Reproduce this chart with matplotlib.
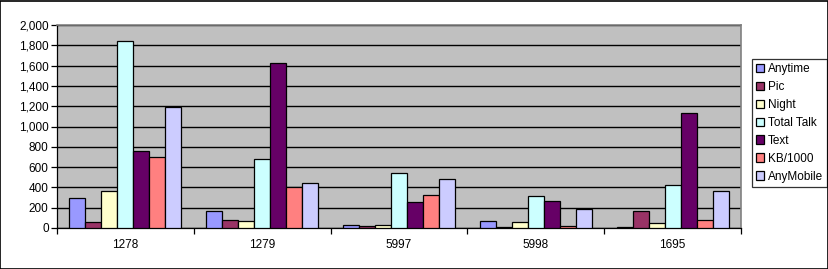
import numpy as np
import matplotlib.pyplot as plt
from matplotlib.ticker import FuncFormatter
from matplotlib.patches import Rectangle

plt.rcParams['font.family'] = ['Liberation Sans', 'DejaVu Sans']

# Data
categories = ['1278', '1279', '5997', '5998', '1695']
anytime = [300, 170, 30, 70, 10]
pic = [60, 80, 20, 10, 170]
night = [360, 70, 30, 60, 50]
total_talk = [1840, 675, 545, 320, 420]
text = [760, 1630, 260, 270, 1130]
kb_1000 = [700, 400, 330, 20, 80]
any_mobile = [1190, 440, 485, 190, 360]

series = [anytime, pic, night, total_talk, text, kb_1000, any_mobile]
names = ['Anytime', 'Pic', 'Night', 'Total Talk', 'Text', 'KB/1000', 'AnyMobile']
colors = ['#9999FF', '#993366', '#FFFFCC', '#CCFFFF', '#660066', '#FF8080', '#CCCCFF']

fig = plt.figure(figsize=(8.29, 2.69), dpi=100)
ax = fig.add_axes([57 / 829, 1 - 228 / 269, 684 / 829, 203 / 269])

x = np.arange(len(categories))
w = 0.117
for i, (vals, name, c) in enumerate(zip(series, names, colors)):
    ax.bar(x + (i - 3) * w, vals, w, color=c, edgecolor='black', linewidth=0.9,
           label=name, zorder=3)

ax.set_facecolor('#C0C0C0')
ax.set_xlim(-0.5, len(categories) - 0.5)
ax.set_ylim(0, 2000)
ax.set_yticks(np.arange(0, 2001, 200))
ax.yaxis.set_major_formatter(FuncFormatter(lambda v, p: f'{int(v):,}'))
ax.grid(axis='y', color='black', linewidth=1.0, zorder=1)

ax.set_xticks(x)
ax.set_xticklabels(categories)
ax.set_xticks(np.arange(-0.5, len(categories), 1), minor=True)
ax.tick_params(axis='x', which='major', length=0, pad=8, labelsize=8.5)
ax.tick_params(axis='x', which='minor', length=4, width=0.9, direction='out')
ax.tick_params(axis='y', length=4, width=0.9, direction='out', labelsize=8.5, pad=2)

for side in ['top', 'right']:
    ax.spines[side].set_color('#808080')
    ax.spines[side].set_linewidth(1.2)
for side in ['left', 'bottom']:
    ax.spines[side].set_color('black')
    ax.spines[side].set_linewidth(0.9)

leg = ax.legend(loc='upper left', bbox_to_anchor=(752 / 829, 1 - 59 / 269),
                bbox_transform=fig.transFigure, fontsize=8.5, frameon=True,
                fancybox=False, edgecolor='black', handlelength=0.7, handleheight=0.7,
                handletextpad=0.3, labelspacing=0.5, borderpad=0.35, borderaxespad=0)
leg.get_frame().set_linewidth(0.9)

# outer chart border
fig.patches.append(Rectangle((0.5 / 829, 0.5 / 269), 827.5 / 829, 267.5 / 269,
                             transform=fig.transFigure, fill=False,
                             edgecolor='black', linewidth=1.2))

fig.savefig('out.png', dpi=100)
